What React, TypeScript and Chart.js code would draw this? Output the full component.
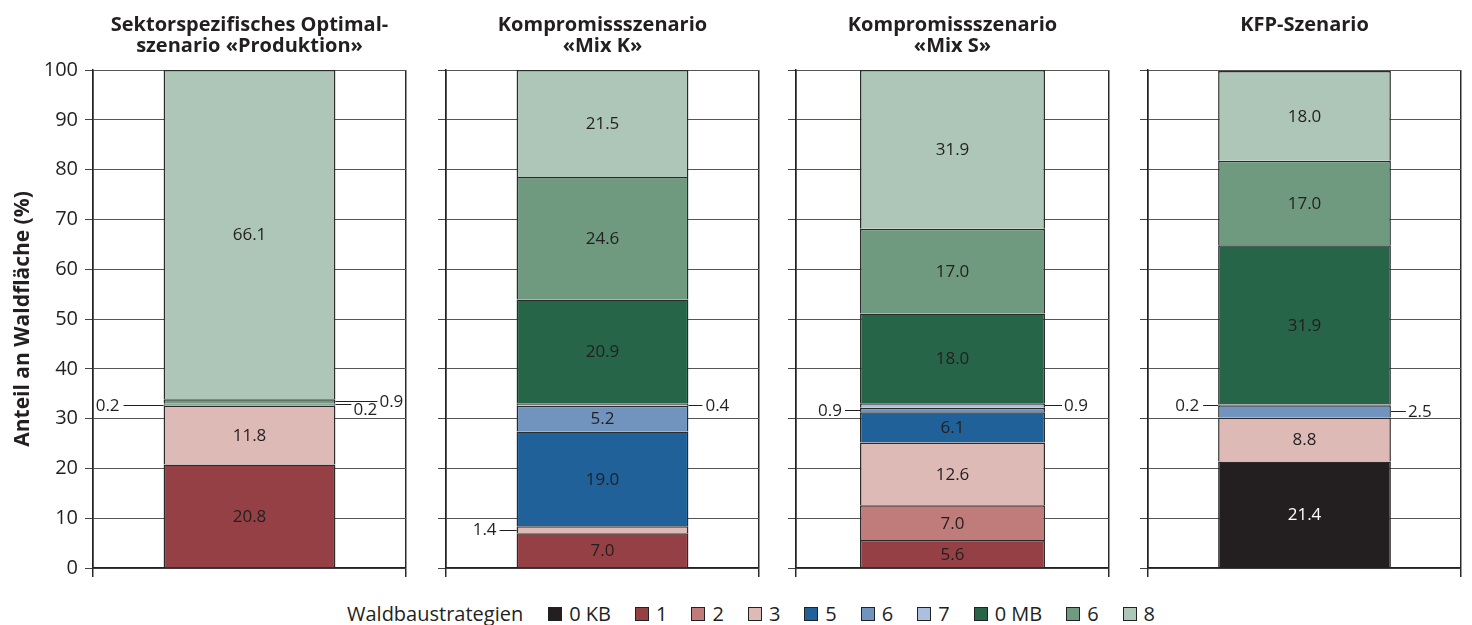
import React, { useEffect, useRef } from "react";
import { Chart, registerables } from "chart.js";

Chart.register(...registerables);

// ---------------- data ----------------
const seriesLabels = ["0 KB", "1", "2", "3", "5", "6", "7", "0 MB", "6", "8"];

const produktion = [0, 20.8, 0, 11.8, 0, 0.2, 0, 0.2, 0.9, 66.1];
const mixK = [0, 7.0, 0, 1.4, 19.0, 5.2, 0.4, 20.9, 24.6, 21.5];
const mixS = [0, 5.6, 7.0, 12.6, 6.1, 0.9, 0.9, 18.0, 17.0, 31.9];
const kfp = [21.4, 0, 0, 8.8, 0, 2.5, 0.2, 31.9, 17.0, 18.0];

const scenarioValues = [produktion, mixK, mixS, kfp];

const scenarioTitles: string[][] = [
  ["Sektorspezifisches Optimal-", "szenario «Produktion»"],
  ["Kompromissszenario", "«Mix K»"],
  ["Kompromissszenario", "«Mix S»"],
  ["KFP-Szenario"],
];

const yMin = 0;
const yMax = 100;
const yStep = 10;
const yAxisTitle = "Anteil an Waldfläche (%)";
const legendTitle = "Waldbaustrategien";

// which small segments get an outside label (series index, side)
const calloutSeries = [
  [{ s: 5, side: "left" }, { s: 7, side: "right" }, { s: 8, side: "right" }],
  [{ s: 3, side: "left" }, { s: 6, side: "right" }],
  [{ s: 5, side: "left" }, { s: 6, side: "right" }],
  [{ s: 6, side: "left" }, { s: 5, side: "right" }],
];

// ---------------- styles ----------------
const seriesColors = [
  "#231f20",
  "#944045",
  "#c07c7a",
  "#ddbab6",
  "#1f6198",
  "#7094bd",
  "#abc0de",
  "#276548",
  "#6f9a80",
  "#aec6b7",
];
const FONT = "'Open Sans', 'Noto Sans', sans-serif";
const TEXT = "#231f20";
const panelLeft = [93, 446, 796, 1148];
const panelWidth = 313;
const axisWidth = [93, 20, 20, 20];
const barPct = [0.549, 0.549, 0.591, 0.552];
const chartBottom = 568;
const canvasHeight = 590;
const calloutStyle = [
  [
    { len: 40, gap: 4, dy: 0 },
    { len: 16, gap: 2, dy: 5 },
    { len: 42, gap: 2, dy: 0 },
  ],
  [
    { len: 17, gap: 3, dy: -1 },
    { len: 14, gap: 3, dy: 0 },
  ],
  [
    { len: 15, gap: 3, dy: 0 },
    { len: 17, gap: 2, dy: 0 },
  ],
  [
    { len: 15, gap: 4, dy: 0 },
    { len: 15, gap: 2, dy: 0 },
  ],
];
const INLINE_MIN = 5;

function Panel({ k }: { k: number }) {
  const ref = useRef<HTMLCanvasElement | null>(null);
  useEffect(() => {
    if (!ref.current) return;
    const values = scenarioValues[k];
    const titleLines = scenarioTitles[k];
    const lineH = 21;
    const padTop = 15;
    const padBottom = 70 - padTop - lineH * titleLines.length;

    const labelPlugin = {
      id: "segLabels",
      afterDatasetsDraw(chart: any) {
        const ctx = chart.ctx;
        ctx.save();
        ctx.font = `17px ${FONT}`;
        ctx.textBaseline = "middle";
        chart.data.datasets.forEach((ds: any, i: number) => {
          const v = ds.data[0];
          if (v == null || v < INLINE_MIN) return;
          const el = chart.getDatasetMeta(i).data[0];
          const p = el.getProps(["x", "y", "base"], true);
          ctx.fillStyle = i === 0 ? "#ffffff" : TEXT;
          ctx.textAlign = "center";
          ctx.fillText(v.toFixed(1), p.x, (p.y + p.base) / 2 + 1);
        });
        calloutSeries[k].forEach((c, j) => {
          const st = calloutStyle[k][j];
          const v = values[c.s];
          const el = chart.getDatasetMeta(c.s).data[0];
          const p = el.getProps(["x", "y", "base", "width"], true);
          const ym = Math.round((p.y + p.base) / 2) + 0.5;
          const x0 = c.side === "left" ? p.x - p.width / 2 : p.x + p.width / 2;
          const x1 = c.side === "left" ? x0 - st.len : x0 + st.len;
          ctx.strokeStyle = TEXT;
          ctx.lineWidth = 1;
          ctx.beginPath();
          ctx.moveTo(x0, ym);
          ctx.lineTo(x1, ym);
          ctx.stroke();
          ctx.fillStyle = TEXT;
          ctx.textAlign = c.side === "left" ? "right" : "left";
          const tx = c.side === "left" ? x1 - st.gap : x1 + st.gap;
          ctx.fillText(v.toFixed(1), tx, ym + st.dy + 1);
        });
        ctx.restore();
      },
    };

    const chart = new Chart(ref.current, {
      type: "bar",
      data: {
        labels: [titleLines.join(" ")],
        datasets: seriesLabels.map((lab, i) => ({
          label: lab,
          data: [values[i] === 0 ? null : values[i]],
          backgroundColor: seriesColors[i],
          borderColor: "#2b2b2b",
          borderWidth: { top: 1.5, right: 1.5, bottom: 0, left: 1.5 },
          borderSkipped: false,
          inflateAmount: 0,
          barPercentage: barPct[k],
          categoryPercentage: 1,
          stack: "s",
        })),
      },
      options: {
        animation: false,
        responsive: false,
        layout: { padding: { left: 0, right: 4, top: 0, bottom: 0 } },
        plugins: {
          legend: { display: false },
          tooltip: { enabled: false },
          title: {
            display: true,
            text: titleLines,
            fullSize: false,
            color: TEXT,
            font: { family: FONT, size: 20, weight: "bold", lineHeight: lineH / 20 },
            padding: { top: padTop, bottom: padBottom },
          },
        },
        scales: {
          x: {
            stacked: true,
            offset: true,
            grid: {
              offset: true,
              color: "#2a2a2a",
              lineWidth: 1.5,
              drawTicks: true,
              tickLength: 9,
              tickColor: "#2a2a2a",
            },
            ticks: { display: false },
            border: { display: true, color: "#222", width: 1.5 },
            afterFit: (s: any) => {
              s.height = canvasHeight - chartBottom;
            },
          },
          y: {
            stacked: true,
            min: yMin,
            max: yMax,
            ticks: {
              stepSize: yStep,
              display: k === 0,
              padding: 7,
              color: TEXT,
              font: { family: FONT, size: 20 },
            },
            grid: { color: "#555", lineWidth: 1, tickLength: 8, tickColor: "#444" },
            border: { display: true, color: "#222", width: 1.5 },
            title: {
              display: k === 0,
              text: yAxisTitle,
              color: TEXT,
              font: { family: FONT, size: 21, weight: "bold" },
              padding: { top: 10, bottom: 0 },
            },
            afterFit: (s: any) => {
              s.width = axisWidth[k];
            },
          },
        },
      } as any,
      plugins: [labelPlugin as any],
    });
    return () => chart.destroy();
  }, [k]);

  const left = panelLeft[k] - axisWidth[k];
  const width = axisWidth[k] + panelWidth + 4;
  return (
    <canvas
      ref={ref}
      width={width}
      height={canvasHeight}
      style={{ position: "absolute", left, top: 0, width, height: canvasHeight }}
    />
  );
}

function Legend() {
  return (
    <div
      style={{
        position: "absolute",
        left: 347,
        top: 604,
        display: "flex",
        alignItems: "center",
        fontFamily: FONT,
        fontSize: 20,
        lineHeight: "20px",
        color: TEXT,
        whiteSpace: "nowrap",
      }}
    >
      <span style={{ marginRight: 25 }}>{legendTitle}</span>
      {seriesLabels.map((lab, i) => (
        <span key={i} style={{ display: "flex", alignItems: "center", marginRight: 24 }}>
          <span
            style={{
              display: "inline-block",
              width: 12,
              height: 12,
              background: seriesColors[i],
              border: "1px solid #222",
              marginRight: 7,
            }}
          />
          {lab}
        </span>
      ))}
    </div>
  );
}

export default function App() {
  return (
    <div
      style={{
        position: "absolute",
        left: 0,
        top: 0,
        width: 1472,
        height: 625,
        overflow: "hidden",
        background: "#ffffff",
      }}
    >
      {[0, 1, 2, 3].map((k) => (
        <Panel key={k} k={k} />
      ))}
      <Legend />
    </div>
  );
}
